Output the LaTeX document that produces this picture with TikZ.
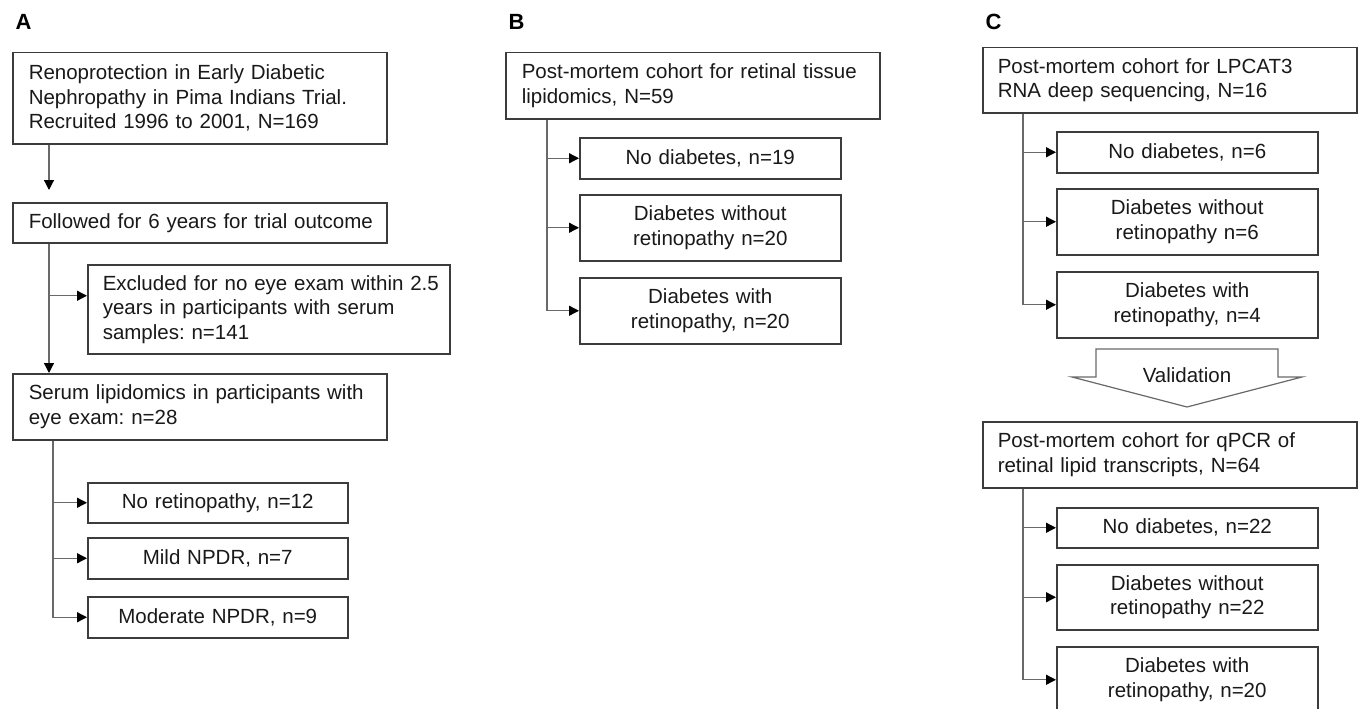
\documentclass[tikz,border=0pt]{standalone}
\usepackage{fontspec}
\setmainfont{Liberation Sans}
\usetikzlibrary{arrows.meta}
\definecolor{boxgray}{RGB}{60,60,60}
\definecolor{linegray}{RGB}{105,105,105}
\definecolor{txt}{RGB}{25,25,25}
\newcommand{\oneline}[1]{\mbox{#1}}
\frenchspacing
\begin{document}
\begin{tikzpicture}[x=1pt,y=-1pt,
  box/.style={draw=boxgray, line width=1.5pt, inner xsep=15pt, inner ysep=0pt,
    anchor=north west, text=txt, font=\fontsize{20.5}{24.5}\selectfont\frenchspacing},
  lbox/.style={box, align=left},
  cbox/.style={box, align=center},
  lab/.style={anchor=base west, font=\fontsize{22}{24}\selectfont\bfseries, text=black},
  conn/.style={draw=linegray, line width=1.3pt},
  arr/.style={conn, -{Triangle[length=10pt,width=10pt,color=black]}},
  varrow/.style={draw=linegray, line width=1.2pt, fill=white}
]
\useasboundingbox (0,0) rectangle (1360,709);
\clip (0,0) rectangle (1360,709);
\fill[white] (0,0) rectangle (1360,709);

% ---------------- Panel A ----------------
\node[lab] (labA) at (12,30) {A};
\node[lbox, text width=342pt, minimum height=91pt, inner xsep=16pt] (a1) at (12,52)
  {\oneline{Renoprotection in Early Diabetic}\\\oneline{Nephropathy in Pima Indians Trial.}\\\oneline{Recruited 1996 to 2001, N=169}};
\node[lbox, text width=342pt, minimum height=40pt, inner xsep=16pt] (a2) at (12,202)
  {\oneline{Followed for 6 years for trial outcome}};
\node[lbox, text width=332pt, minimum height=89pt] (a3) at (87,264)
  {\oneline{Excluded for no eye exam within 2.5}\\\oneline{years in participants with serum}\\\oneline{samples: n=141}};
\node[lbox, text width=342pt, minimum height=66pt, inner xsep=16pt] (a4) at (12,373)
  {\oneline{Serum lipidomics in participants with}\\\oneline{eye exam: n=28}};
\node[cbox, text width=230pt, minimum height=40pt] (a5) at (87,482) {No retinopathy, n=12};
\node[cbox, text width=230pt, minimum height=41pt] (a6) at (87,537) {Mild NPDR, n=7};
\node[cbox, text width=230pt, minimum height=41pt] (a7) at (87,596) {Moderate NPDR, n=9};

\coordinate (a1x) at ([xshift=37pt]a1.south west);
\draw[arr, shorten >=12pt] (a1x) -- (a1x |- a2.north);
\coordinate (a2x) at ([xshift=37pt]a2.south west);
\coordinate (a3in) at ([yshift=13.5pt]a3.west);
\draw[arr] (a2x) -- (a2x |- a4.north);
\draw[arr] (a2x |- a3in) -- (a3in);
\coordinate (a4x) at ([xshift=41pt]a4.south west);
\draw[arr] (a4x) |- (a7.west);
\draw[arr] (a4x |- a5.west) -- (a5.west);
\draw[arr] (a4x |- a6.west) -- (a6.west);

% ---------------- Panel B ----------------
\node[lab] (labB) at (505,30) {B};
\node[lbox, text width=342pt, minimum height=66pt, inner xsep=16pt] (b1) at (505,52)
  {\oneline{Post-mortem cohort for retinal tissue}\\\oneline{lipidomics, N=59}};
\node[cbox, text width=231pt, minimum height=41pt] (b2) at (579,137) {No diabetes, n=19};
\node[cbox, text width=231pt, minimum height=66pt] (b3) at (579,194) {Diabetes without\\retinopathy n=20};
\node[cbox, text width=231pt, minimum height=66pt] (b4) at (579,277) {Diabetes with\\retinopathy, n=20};
\coordinate (b1x) at ([xshift=42pt]b1.south west);
\draw[arr] (b1x) |- (b4.west);
\draw[arr] (b1x |- b2.west) -- (b2.west);
\draw[arr] (b1x |- b3.west) -- (b3.west);

% ---------------- Panel C ----------------
\node[lab] (labC) at (982,30) {C};
\node[lbox, text width=344pt, minimum height=65pt] (c1) at (982,47)
  {\oneline{Post-mortem cohort for LPCAT3}\\\oneline{RNA deep sequencing, N=16}};
\node[cbox, text width=231pt, minimum height=41pt] (c2) at (1056,131) {No diabetes, n=6};
\node[cbox, text width=231pt, minimum height=66pt] (c3) at (1056,188) {Diabetes without\\retinopathy n=6};
\node[cbox, text width=231pt, minimum height=66pt] (c4) at (1056,271) {Diabetes with\\retinopathy, n=4};
\coordinate (c1x) at ([xshift=41pt]c1.south west);
\draw[arr] (c1x) |- (c4.west);
\draw[arr] (c1x |- c2.west) -- (c2.west);
\draw[arr] (c1x |- c3.west) -- (c3.west);

\draw[varrow] (1096,349) -- (1278,349) -- (1278,377) -- (1302,377) -- (1187,407)
  -- (1072,377) -- (1096,377) -- cycle;
\node[anchor=base, text=txt, font=\fontsize{20.5}{24.5}\selectfont] (val) at (1187,382) {Validation};

\node[lbox, text width=344pt, minimum height=66pt] (c5) at (982,421)
  {\oneline{Post-mortem cohort for qPCR of}\\\oneline{retinal lipid transcripts, N=64}};
\node[cbox, text width=231pt, minimum height=40pt] (c6) at (1056,507) {No diabetes, n=22};
\node[cbox, text width=231pt, minimum height=65pt] (c7) at (1056,564) {Diabetes without\\retinopathy n=22};
\node[cbox, text width=231pt, minimum height=66pt] (c8) at (1056,646) {Diabetes with\\retinopathy, n=20};
\coordinate (c5x) at ([xshift=41pt]c5.south west);
\draw[arr] (c5x) |- (c8.west);
\draw[arr] (c5x |- c6.west) -- (c6.west);
\draw[arr] (c5x |- c7.west) -- (c7.west);
\end{tikzpicture}
\end{document}
